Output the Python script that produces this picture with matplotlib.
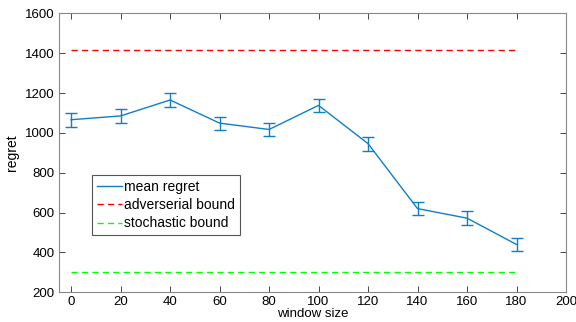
import matplotlib
matplotlib.use("Agg")
import matplotlib.pyplot as plt

# Data
window = [0, 20, 40, 60, 80, 100, 120, 140, 160, 180]
mean_regret = [1066, 1085, 1165, 1049, 1017, 1138, 946, 620, 572, 440]
err = [35, 36, 35, 33, 34, 34, 35, 33, 34, 33]
adv_bound = 1414
sto_bound = 300

plt.rcParams['font.family'] = ['Liberation Sans', 'DejaVu Sans']
plt.rcParams['font.size'] = 9.5

fig = plt.figure(figsize=(5.76, 3.22), dpi=100)
ax = fig.add_axes([58.7 / 576, 1 - 292.3 / 322, (566 - 58.7) / 576, (292.3 - 13.3) / 322])

blue = '#0f7fc8'
ax.errorbar(window, mean_regret, yerr=err, color=blue, lw=1, capsize=4,
            elinewidth=1, capthick=1)
ax.plot([], [], color=blue, lw=1, label='mean regret')
ax.plot([window[0], window[-1]], [adv_bound, adv_bound], '--', color='#FF0000',
        lw=1, dashes=(4.5, 3), label='adverserial bound')
ax.plot([window[0], window[-1]], [sto_bound, sto_bound], '--', color='#00FF00',
        lw=1, dashes=(4.5, 3), label='stochastic bound')

ax.set_xlim(-5, 200)
ax.set_ylim(200, 1600)
ax.set_xticks(range(0, 201, 20))
ax.set_yticks(range(200, 1601, 200))
ax.set_xlabel('window size', labelpad=0, fontsize=9.5)
ax.set_ylabel('regret', labelpad=4, fontsize=10)

ax.tick_params(direction='in', top=True, right=True, length=4, width=0.6, colors='#262626',
               labelcolor='black', pad=3)
for s in ax.spines.values():
    s.set_color('#888888')
    s.set_linewidth(0.8)

leg = ax.legend(loc='upper left', bbox_to_anchor=((91.7 - 58.7) / 507.3, (292.3 - 174.7) / 279),
                fancybox=False, framealpha=1, edgecolor='#555555', borderpad=0.35,
                handlelength=1.8, handletextpad=0.2, labelspacing=0.32, borderaxespad=0,
                fontsize=10)
leg.get_frame().set_linewidth(0.8)

fig.savefig('out.png', dpi=100)
